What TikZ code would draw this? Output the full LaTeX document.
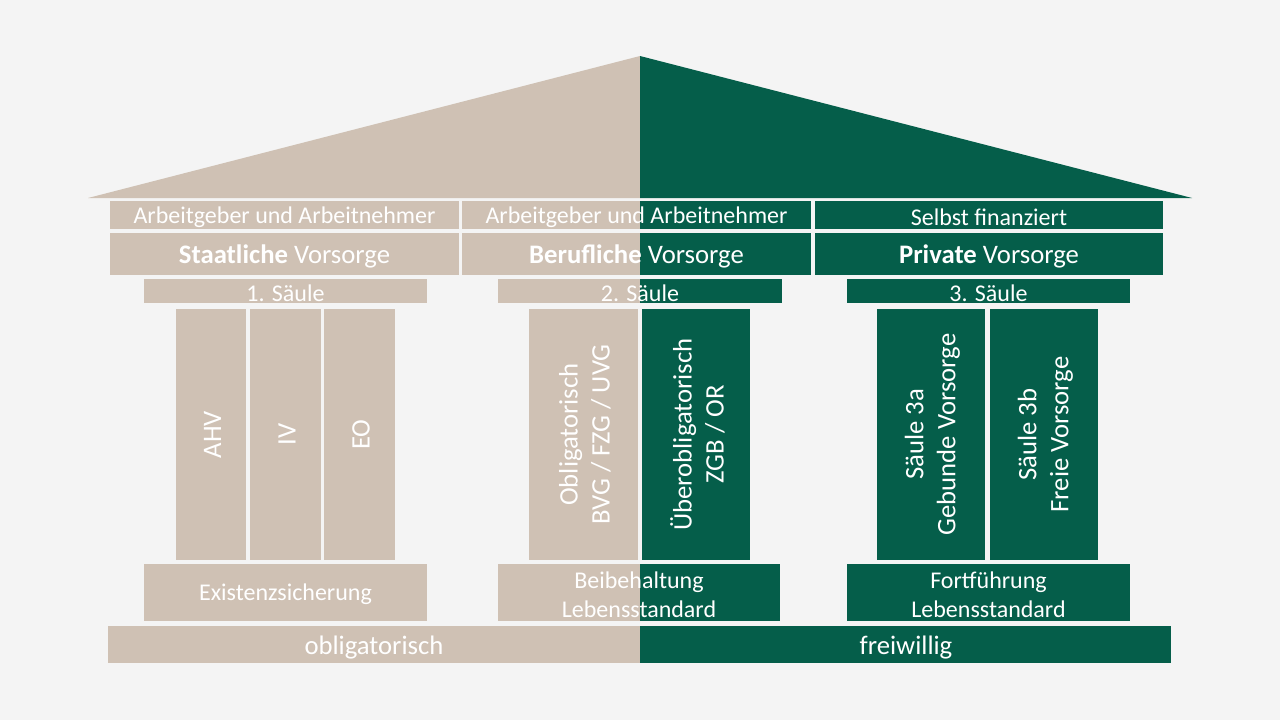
\documentclass[tikz,border=0pt]{standalone}
\usepackage{fontspec}
\setmainfont{Carlito}
\definecolor{beige}{RGB}{207,193,180}
\definecolor{dgreen}{RGB}{5,94,74}
\definecolor{bgc}{RGB}{244,244,244}
\newcommand\fsz[2]{\fontsize{#1}{#2}\selectfont}
% name, x1, y1, x2, y2, fill, font, text
\newcommand\bx[8]{%
  \node[box,fill=#6,minimum width={(#4-#2)*1pt},minimum height={(#5-#3)*1pt}] (#1) at ({(#2+#4)/2},{(#3+#5)/2}) {};
  \node[btext,font=#7] (#1-t) at (#1) {#8};}
% split box: name, x1, y1, x2, y2, font, text
\newcommand\sbx[7]{%
  \fill[beige] (#2,#3) rectangle (640,#5);
  \fill[dgreen] (640,#3) rectangle (#4,#5);
  \node[box,minimum width={(#4-#2)*1pt},minimum height={(#5-#3)*1pt}] (#1) at ({(#2+#4)/2},{(#3+#5)/2}) {};
  \node[btext,font=#6] (#1-t) at (#1) {#7};}
\begin{document}
\begin{tikzpicture}[x=1pt,y=-1pt,
  box/.style={rectangle,inner sep=0pt,outer sep=0pt},
  btext/.style={rectangle,inner sep=0pt,text=white,align=center,yshift=-2pt},
  vtext/.style={rectangle,inner sep=0pt,text=white,align=center,xshift=1.5pt,rotate=90,font=\fsz{26.7}{32}}]
\fill[bgc] (0,0) rectangle (1280,720);
\useasboundingbox (0,0) rectangle (1280,720);
% roof
\coordinate (apex) at (640,56);
\coordinate (roofL) at (88,198);
\coordinate (roofR) at (1192,198);
\coordinate (roofM) at (640,198);
\fill[beige] (roofL) -- (apex) -- (roofM) -- cycle;
\fill[dgreen] (apex) -- (roofR) -- (roofM) -- cycle;
% row 1
\bx{fin1}{110}{201}{459}{229}{beige}{\fsz{24}{29}}{Arbeitgeber und Arbeitnehmer}
\sbx{fin2}{462}{201}{811}{229}{\fsz{24}{29}}{Arbeitgeber und Arbeitnehmer}
\bx{fin3}{815}{201}{1163}{229}{dgreen}{\fsz{24}{29}}{Selbst finanziert}
% row 2
\bx{name1}{110}{233}{459}{275}{beige}{\fsz{26.7}{32}}{\textbf{Staatliche} Vorsorge}
\sbx{name2}{462}{233}{811}{275}{\fsz{26.7}{32}}{\textbf{Berufliche} Vorsorge}
\bx{name3}{815}{233}{1163}{275}{dgreen}{\fsz{26.7}{32}}{\textbf{Private} Vorsorge}
% row 3
\bx{s1}{144}{279}{427}{303}{beige}{\fsz{24}{29}}{1. Säule}
\sbx{s2}{498}{279}{782}{303}{\fsz{24}{29}}{2. Säule}
\bx{s3}{847}{279}{1130}{303}{dgreen}{\fsz{24}{29}}{3. Säule}
% pillars
\bx{ahv}{176}{309}{246}{560}{beige}{}{}
\bx{iv}{250}{309}{321}{560}{beige}{}{}
\bx{eo}{324}{309}{395}{560}{beige}{}{}
\bx{obl}{529}{309}{638}{560}{beige}{}{}
\bx{ueb}{642}{309}{750}{560}{dgreen}{}{}
\bx{p3a}{877}{309}{985}{560}{dgreen}{}{}
\bx{p3b}{990}{309}{1098}{560}{dgreen}{}{}
\node[vtext] (tahv) at (ahv) {AHV};
\node[vtext] (tiv) at (iv) {IV};
\node[vtext] (teo) at (eo) {EO};
\node[vtext] (tobl) at (obl) {Obligatorisch\\BVG / FZG / UVG};
\node[vtext] (tueb) at (ueb) {Überobligatorisch\\ZGB / OR};
\node[vtext] (tp3a) at (p3a) {Säule 3a\\Gebunde Vorsorge};
\node[vtext] (tp3b) at (p3b) {Säule 3b\\Freie Vorsorge};
% bottom boxes
\bx{b1}{144}{564}{427}{621}{beige}{\fsz{24}{29}}{Existenzsicherung}
\sbx{b2}{498}{564}{780}{621}{\fsz{24}{29}}{Beibehaltung\\Lebensstandard}
\bx{b3}{847}{564}{1130}{621}{dgreen}{\fsz{24}{29}}{Fortführung\\Lebensstandard}
% base
\fill[beige] (108,626) rectangle (640,663);
\fill[dgreen] (640,626) rectangle (1171,663);
\node[btext,font=\fsz{26.7}{32},yshift=-1.5pt] (obligat) at (374,644.5) {obligatorisch};
\node[btext,font=\fsz{26.7}{32},yshift=-1.5pt] (freiw) at (906,644.5) {freiwillig};
\end{tikzpicture}
\end{document}
